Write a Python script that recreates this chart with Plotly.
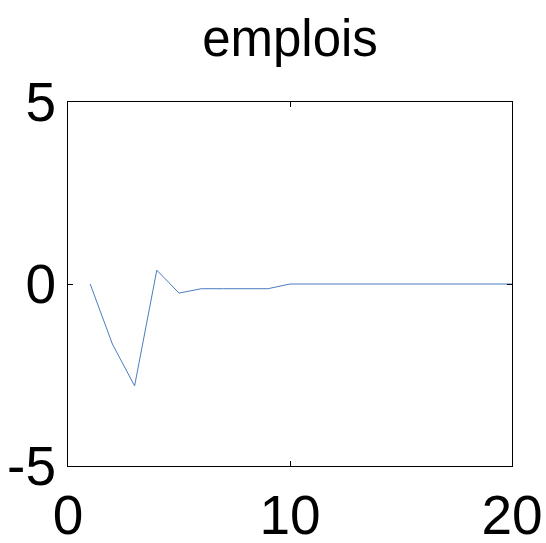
import plotly.graph_objects as go

x_vals = list(range(1, 21))
y_vals = [0.0, -1.65, -2.8, 0.38, -0.25, -0.13, -0.13, -0.13, -0.13, 0.0,
          0.0, 0.0, 0.0, 0.0, 0.0, 0.0, 0.0, 0.0, 0.0, 0.0]
x_ticks = [0, 10, 20]
y_ticks = [-5, 0, 5]
title_text = "emplois"

fig = go.Figure()
fig.add_trace(go.Scatter(x=x_vals, y=y_vals, mode="lines",
                         line=dict(color="#4a7cc0", width=1), showlegend=False))

font = "Liberation Sans, Arial, Helvetica, sans-serif"
fig.update_layout(
    width=546, height=543,
    margin=dict(l=68, r=34, t=102, b=77, autoexpand=False),
    paper_bgcolor="white", plot_bgcolor="white",
    title=dict(text=title_text, xref="paper", x=0.5, xanchor="center",
               yref="container", y=1 - 56 / 543, yanchor="bottom",
               font=dict(family=font, size=51, color="black")),
    font=dict(family=font, color="black"),
)
fig.update_xaxes(range=[0, 20], tickvals=x_ticks, ticktext=[str(v) for v in x_ticks],
                 automargin=False,
                 showgrid=False, zeroline=False, showline=True, linecolor="black",
                 linewidth=1, mirror="ticks", ticks="inside", ticklen=5,
                 tickcolor="black", ticklabelstandoff=1,
                 tickfont=dict(size=55, family=font))
fig.update_yaxes(range=[-5, 5], tickvals=y_ticks, ticktext=[str(v) for v in y_ticks],
                 automargin=False,
                 showgrid=False, zeroline=False, showline=True, linecolor="black",
                 linewidth=1, mirror="ticks", ticks="inside", ticklen=5,
                 tickcolor="black", ticklabelstandoff=0,
                 tickfont=dict(size=55, family=font))

fig.write_html("out.html", config={"displayModeBar": False},
               post_script="document.body.style.margin='0';document.body.style.overflow='hidden';")
